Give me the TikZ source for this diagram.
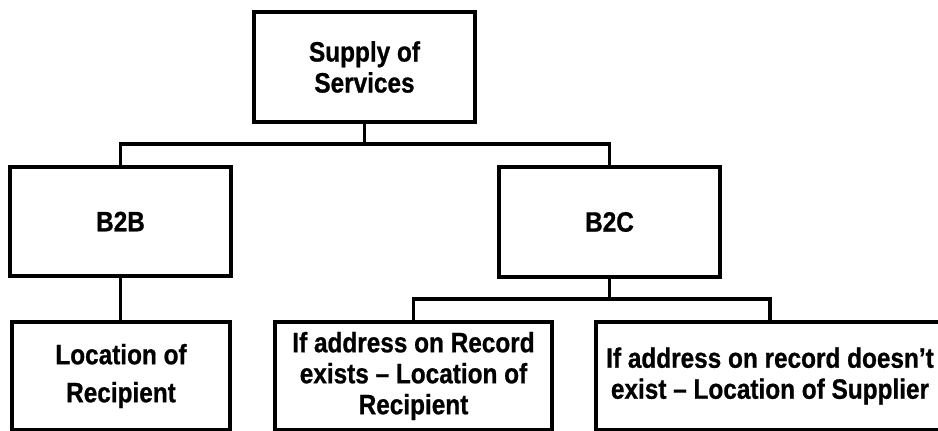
\documentclass[tikz,border=0pt]{standalone}
\usepackage{fontspec}
\newfontfamily\labfont{Liberation Sans}[FakeStretch=0.87,FakeBold=0.8]
\begin{document}
\begin{tikzpicture}[x=1pt,y=-1pt,
  box/.style={draw=black,line width=3.5pt,fill=white,inner sep=0pt,align=center,
    font=\labfont\bfseries\fontsize{28}{31}\selectfont},
  conn/.style={draw=black,line width=3.5pt}]
\useasboundingbox (0,0) rectangle (938,431);
\begin{scope}
\clip (0,0) rectangle (938,431);
\node[box,minimum width=221pt,minimum height=110pt] (top) at (364.5,67) {Supply of\\Services};
\node[box,minimum width=221pt,minimum height=109pt] (b2b) at (120.5,221.5) {B2B};
\node[box,minimum width=221pt,minimum height=110pt] (b2c) at (609.5,222) {B2C};
\node[box,minimum width=218pt,minimum height=108pt] (loc) at (121,376) {Location of\\[7pt]Recipient};
\node[box,minimum width=277pt,minimum height=108pt] (mid) at (413.5,376) {If address on Record\\exists – Location of\\Recipient};
\node[box,minimum width=348pt,minimum height=108pt] (rgt) at (770,376) {If address on record doesn’t\\exist – Location of Supplier};
\coordinate (tj) at (top.south |- 0,144);
\coordinate (bj) at (b2c.south |- 0,299);
\draw[conn] (top.south) -- (tj);
\draw[conn] (tj) -| (b2b.north);
\draw[conn] (tj) -| (b2c.north);
\draw[conn] (b2b.south) -- (loc.north -| b2b.south);
\draw[conn] (b2c.south) -- (bj);
\draw[conn] (bj) -| (mid.north);
\draw[conn] (bj) -| (rgt.north);
\end{scope}
\end{tikzpicture}
\end{document}
